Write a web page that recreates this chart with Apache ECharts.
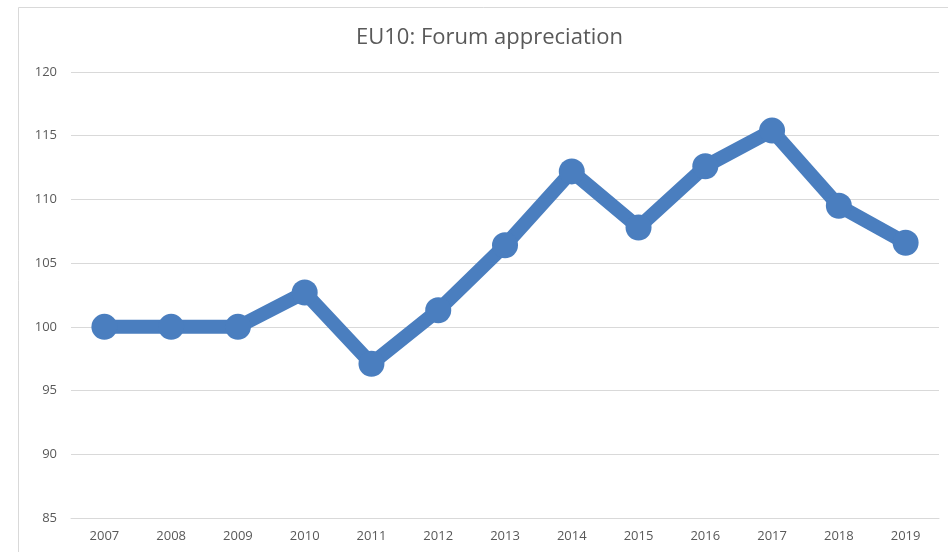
<!DOCTYPE html>
<html>
<head>
<meta charset="utf-8">
<script src="https://cdn.jsdelivr.net/npm/echarts@6/dist/echarts.min.js"></script>
<style>
  html, body { margin: 0; padding: 0; background: #fff; }
  #chart { width: 948px; height: 552px; }
</style>
</head>
<body>
<div id="chart"></div>
<script>
// data
const years = ["2007", "2008", "2009", "2010", "2011", "2012", "2013", "2014", "2015", "2016", "2017", "2018", "2019"];
const appreciation = [100, 100, 100, 102.7, 97.1, 101.3, 106.4, 112.2, 107.8, 112.6, 115.4, 109.5, 106.6];

const chart = echarts.init(document.getElementById("chart"));
const textColor = "#595959";

const option = {
    backgroundColor: "#fff",
    animation: false,
    title: {
        text: "EU10: Forum appreciation",
        left: 351,
        top: 22,
        textStyle: {
            color: textColor,
            fontSize: 22,
            fontWeight: "normal",
            fontFamily: "Open Sans",
        },
    },
    // outer chart frame
    graphic: [
        {
            type: "rect",
            shape: { x: 18.5, y: 7.5, width: 960, height: 600 },
            style: { fill: "none", stroke: "#d9d9d9", lineWidth: 1 },
            silent: true,
        },
    ],
    grid: {
        left: 71,
        right: 9,
        top: 72,
        bottom: 34,
    },
    xAxis: {
        type: "category",
        boundaryGap: true,
        data: years,
        axisLine: { show: true, lineStyle: { color: "#d9d9d9" } },
        axisTick: { show: false },
        axisLabel: {
            color: textColor,
            fontSize: 13,
            margin: 12,
            fontFamily: "Open Sans",
        },
    },
    yAxis: {
        type: "value",
        min: 85,
        max: 120,
        interval: 5,
        axisLine: { show: false },
        axisTick: { show: false },
        axisLabel: {
            color: textColor,
            fontSize: 13,
            margin: 14,
            fontFamily: "Open Sans",
        },
        splitLine: {
            show: true,
            lineStyle: { color: "#d9d9d9", width: 1 },
        },
    },
    series: [
        {
            type: "line",
            data: appreciation,
            symbol: "circle",
            symbolSize: 26,
            lineStyle: { color: "#4a7ebf", width: 14 },
            itemStyle: { color: "#4a7ebf" },
        },
    ],
};

chart.setOption(option);
</script>
</body>
</html>
